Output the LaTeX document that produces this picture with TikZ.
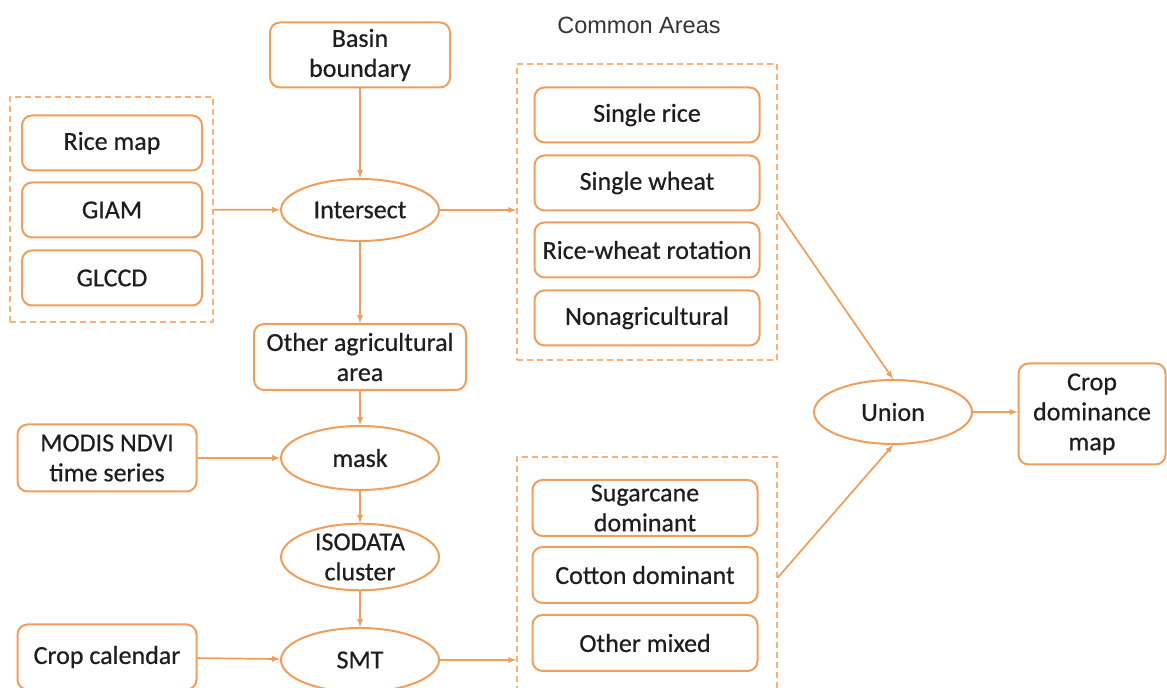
\documentclass[tikz,border=0pt]{standalone}
\usepackage{fontspec}
\usetikzlibrary{shapes.geometric}
\setmainfont{Carlito}[FakeBold=0.5]
\newfontfamily\labelfont{Liberation Sans}
\definecolor{flowline}{RGB}{240,158,92}
\definecolor{grpline}{RGB}{246,178,122}
\definecolor{flowtext}{RGB}{30,30,30}

\begin{document}
\begin{tikzpicture}[x=1bp,y=1bp,>=latex,line join=round,
  every node/.style={text=flowtext,font=\fontsize{26bp}{30bp}\selectfont,align=center,inner sep=0pt},
  databox/.style={draw=flowline,line width=2bp,rounded corners=10bp},
  opnode/.style={draw=flowline,line width=2bp,ellipse,minimum width=158bp,minimum height=62bp},
  groupbox/.style={draw=grpline,line width=1.6bp,dash pattern=on 6bp off 4bp},
  flow/.style={draw=flowline,line width=1.7bp,->},
]
\useasboundingbox (0,0) rectangle (1167,688);
%%
\node (basin) at (360bp,633bp) [databox,minimum width=180bp,minimum height=65bp] {Basin\\boundary};
  \node (ricemap) at (112bp,545bp) [databox,minimum width=180bp,minimum height=55bp] {Rice map};
  \node (giam) at (112bp,478bp) [databox,minimum width=180bp,minimum height=55bp] {GIAM};
  \node (glccd) at (112bp,410bp) [databox,minimum width=180bp,minimum height=55bp] {GLCCD};
  \node (srcgrp) at (111.5bp,478.5bp) [groupbox,minimum width=203bp,minimum height=225bp] {};
  \node (intersect) at (360bp,478bp) [opnode] {Intersect};
  \node (commonlbl) at (639bp,663bp) [font=\labelfont\fontsize{23.5bp}{26bp}\selectfont,text=flowtext!90] {Common Areas};
  \node (singlerice) at (647bp,573bp) [databox,minimum width=225bp,minimum height=55bp] {Single rice};
  \node (singlewheat) at (647bp,505bp) [databox,minimum width=225bp,minimum height=55bp] {Single wheat};
  \node (ricewheat) at (647bp,438bp) [databox,minimum width=225bp,minimum height=55bp] {Rice-wheat rotation};
  \node (nonagri) at (647bp,370bp) [databox,minimum width=225bp,minimum height=55bp] {Nonagricultural};
  \node (upgrp) at (647bp,476bp) [groupbox,minimum width=260bp,minimum height=296bp] {};
  \node (otheragri) at (360bp,331bp) [databox,minimum width=212bp,minimum height=66bp] {Other agricultural\\area};
  \node (modis) at (107bp,230bp) [databox,minimum width=179bp,minimum height=67bp] {MODIS NDVI\\time series};
  \node (mask) at (360bp,230bp) [opnode,minimum height=64bp] {mask};
  \node (isodata) at (360bp,131bp) [opnode,minimum height=66bp] {ISODATA\\cluster};
  \node (smt) at (360bp,28bp) [opnode,minimum height=64bp] {SMT};
  \node (calendar) at (107bp,31bp) [databox,minimum width=179bp,minimum height=65bp] {Crop calendar};
  \node (sugarcane) at (645bp,180bp) [databox,minimum width=225bp,minimum height=56bp] {Sugarcane\\dominant};
  \node (cotton) at (645bp,113bp) [databox,minimum width=225bp,minimum height=56bp] {Cotton dominant};
  \node (othermixed) at (645bp,45bp) [databox,minimum width=225bp,minimum height=56bp] {Other mixed};
  \node (lowgrp) at (647bp,110.5bp) [groupbox,minimum width=260bp,minimum height=241bp] {};
  \node (union) at (893bp,276bp) [opnode,minimum height=64bp] {Union};
  \node (cropdom) at (1092bp,274bp) [databox,minimum width=147bp,minimum height=101bp] {Crop\\dominance\\map};
  \draw [flow] (basin) -- (intersect);
  \draw [flow] (srcgrp) -- (intersect);
  \draw [flow] (intersect.east) -- (intersect.east -| upgrp.west);
  \draw [flow] (intersect) -- (otheragri);
  \draw [flow] (otheragri) -- (mask);
  \draw [flow] (modis) -- (mask);
  \draw [flow] (mask) -- (isodata);
  \draw [flow] (isodata) -- (smt);
  \draw [flow] (calendar) -- (smt);
  \draw [flow] (smt.east) -- (smt.east -| lowgrp.west);
  \draw [flow] (upgrp.east) -- (union.north);
  \draw [flow] (lowgrp.east) -- (union.south);
  \draw [flow] (union.east) -- (union.east -| cropdom.west);
%
\end{tikzpicture}
\end{document}
